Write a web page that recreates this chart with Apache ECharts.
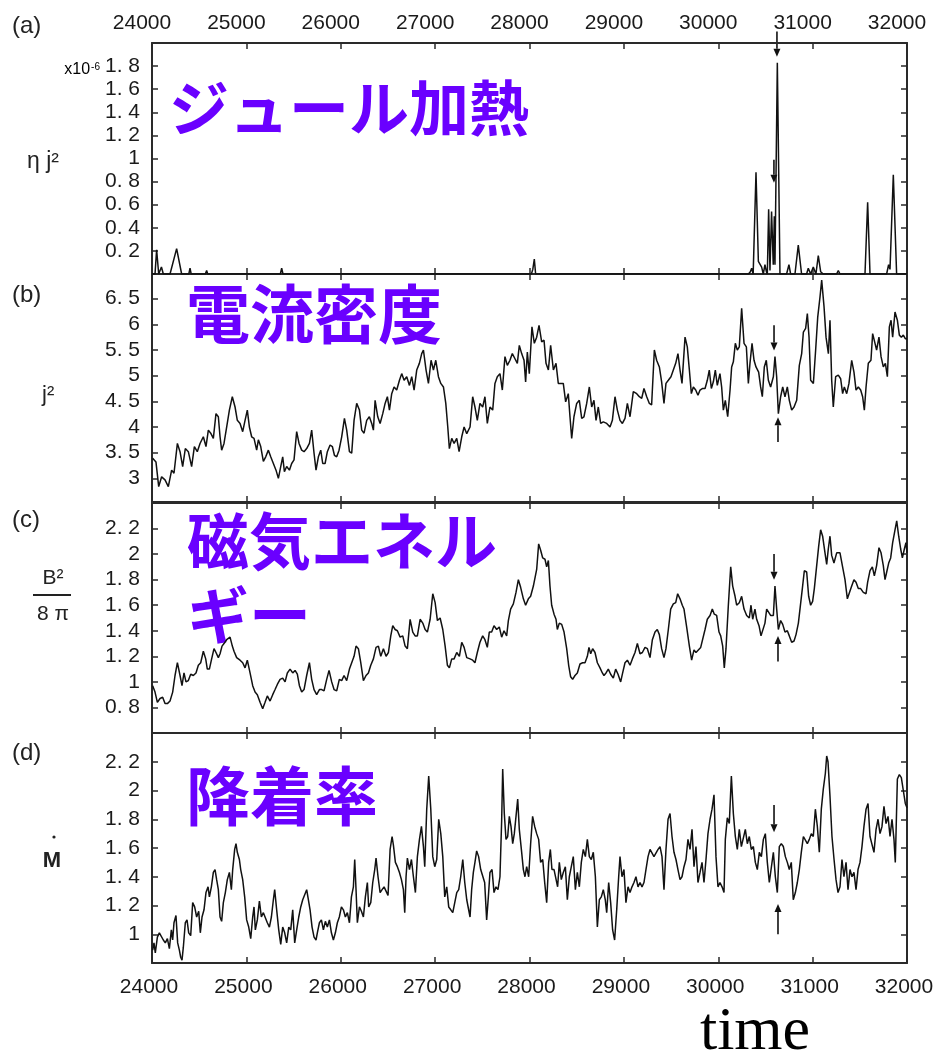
<!DOCTYPE html>
<html><head><meta charset="utf-8">
<script src="https://cdn.jsdelivr.net/npm/echarts@6/dist/echarts.min.js"></script>
<style>html,body{margin:0;padding:0;background:#fff}#c{width:938px;height:1056px}</style>
</head><body><div id="c"></div>
<script>
// ---- axis ticks ----
const xTicks = [24000,25000,26000,27000,28000,29000,30000,31000,32000];
const yTicksA = [0.2,0.4,0.6,0.8,1.0,1.2,1.4,1.6,1.8];
const yTicksB = [3,3.5,4,4.5,5,5.5,6,6.5];
const yTicksC = [0.8,1.0,1.2,1.4,1.6,1.8,2.0,2.2];
const yTicksD = [1.0,1.2,1.4,1.6,1.8,2.0,2.2];

// ---- (a) Joule heating  eta j^2  (x1e-6) ----
const timeA = [24000,24032,24049,24071,24100,24120,24140,24191,24261,24314,24390,24403,24415,24565,24579,24590,25360,25374,25388,28020,28035,28051,28065,30320,30340,30354,30370,30385,30400,30425,30442,30460,30477,30495,30510,30520,30534,30548,30565,30583,30594,30601,30626,30654,30724,30749,30767,30813,30848,30883,30936,30954,30979,31007,31035,31060,31085,31113,31254,31272,31290,31555,31583,31608,31784,31805,31820,31855,31890,32000];
const jouleA = [0,0,0.21,0,0.06,0,0,0,0.22,0,0,0.05,0,0,0.03,0,0,0.05,0,0,0.04,0.13,0,0,0.02,0.05,0,0,0.88,0.11,0.11,0.06,0,0.08,0.02,0,0.56,0.03,0.54,0.08,0.5,0.08,1.83,0,0,0.08,0,0,0.25,0,0,0.05,0,0.06,0,0.16,0.02,0,0,0.03,0,0,0.62,0,0,0.08,0.04,0.86,0,0];

// ---- (b) current density j^2 ----
const timeB = [24007,24042,24071,24102,24138,24173,24208,24233,24269,24297,24325,24353,24385,24420,24449,24480,24509,24544,24572,24597,24622,24650,24678,24703,24721,24738,24763,24791,24820,24851,24880,24904,24933,24961,24986,25010,25032,25056,25081,25109,25127,25152,25180,25205,25233,25258,25286,25314,25339,25364,25385,25403,25427,25456,25480,25505,25533,25558,25586,25611,25639,25668,25692,25717,25738,25763,25788,25809,25834,25858,25887,25911,25933,25957,25982,26010,26039,26063,26092,26116,26141,26169,26198,26222,26247,26275,26303,26328,26346,26364,26392,26417,26445,26470,26494,26516,26540,26565,26593,26622,26646,26671,26699,26728,26752,26777,26805,26833,26858,26876,26904,26929,26957,26982,27007,27035,27060,27088,27113,27134,27151,27176,27201,27229,27254,27282,27307,27335,
27370,27398,27422,27447,27475,27504,27528,27553,27581,27610,27634,27659,27687,27712,27740,27765,27793,27818,27846,27871,27892,27917,27942,27959,27977,27998,28026,28051,28076,28101,28129,28154,28175,28200,28224,28253,28281,28305,28330,28358,28383,28411,28429,28447,28471,28500,28528,28553,28577,28606,28634,28659,28683,28705,28729,28754,28782,28818,28853,28878,28906,28931,28959,28984,29012,29037,29065,29100,29136,29164,29189,29213,29242,29270,29294,29323,29347,29376,29400,29425,29446,29471,29499,29524,29549,29573,29595,29616,29648,29672,29694,29715,29736,29761,29785,29807,29831,29860,29884,29905,29927,29948,29969,29990,30018,30036,30054,30075,30100,30125,30142,30160,30181,30202,30223,30248,30273,30298,30319,30336,30358,30379,30400,30428,30449,30467,30488,30509,30531,30555,30584,30601,30619,30637,30661,30683,30707,30732,30753,30778,30803,30831,30859,30884,30902,30926,30944,30962,30979,31008,31032,31054,31078,31096,31121,31142,31167,31184,31202,31219,31244,31272,31297,31318,31336,31361,31385,31414,31438,31460,31484,31509,31530,31548,31566,31590,31618,31636,31661,31678,31703,31725,31749,31771,31792,31813,31831,31848,31873,31898,31919,31940,31961,31982,32000];
const currentB = [3.39,3.32,2.84,3.03,2.97,2.84,3.16,3.10,3.68,3.52,3.23,3.58,3.52,3.23,3.62,3.52,3.68,3.81,3.62,3.94,3.88,3.78,4.26,4.20,3.81,3.55,3.68,4.00,4.33,4.59,4.39,4.13,4.07,3.91,4.13,4.33,4.00,3.81,3.78,3.55,3.75,3.62,3.33,3.42,3.55,3.42,3.29,3.16,3.00,3.23,3.42,3.13,3.23,3.16,3.29,3.36,3.91,3.68,3.55,3.52,3.58,3.68,3.94,3.49,3.16,3.42,3.55,3.29,3.29,3.52,3.65,3.62,3.45,3.42,3.55,3.81,4.17,3.94,3.52,3.49,4.13,4.46,4.33,3.94,3.88,4.13,4.20,4.07,3.94,4.52,4.20,4.07,4.26,4.46,4.59,4.33,4.65,4.78,4.72,4.91,5.04,4.91,4.98,4.81,4.98,4.72,5.11,5.24,5.43,5.50,5.11,4.85,5.30,5.11,5.30,4.98,4.85,4.78,4.46,4.00,3.58,3.78,3.68,3.78,3.52,3.81,4.00,3.87,
4.00,4.59,4.39,4.13,4.46,4.39,4.59,4.07,4.39,4.33,4.85,4.98,5.04,4.72,5.37,5.20,5.30,5.43,5.33,5.24,5.59,5.43,5.30,4.88,5.46,5.04,5.95,5.63,5.75,5.98,5.66,5.69,5.24,5.11,5.59,5.11,5.24,4.85,4.85,4.85,4.49,4.65,4.20,3.78,4.20,4.46,4.52,4.17,4.20,4.46,4.78,4.39,4.52,4.13,4.39,4.07,4.10,4.07,4.00,4.13,4.59,4.33,4.13,4.07,4.17,4.46,4.20,4.69,4.65,4.59,4.56,4.75,4.59,4.46,4.43,5.50,5.30,5.17,4.88,4.46,4.85,4.91,4.98,5.11,5.24,5.43,5.11,4.85,5.75,5.56,5.11,4.65,4.78,4.72,4.62,4.72,4.75,4.75,4.91,5.11,4.75,4.88,5.11,4.81,5.04,4.78,4.33,4.52,4.20,4.72,5.17,5.27,5.63,5.50,5.56,6.31,5.63,5.56,4.85,5.24,5.63,5.30,5.17,5.07,4.78,4.59,5.17,5.30,4.91,4.78,4.98,5.37,4.98,4.26,4.59,4.78,4.59,4.78,4.52,4.33,4.39,4.52,5.20,5.43,5.85,5.92,6.21,5.75,4.91,4.85,5.50,6.14,6.53,6.86,6.34,5.75,5.43,6.08,4.91,4.39,4.98,5.01,4.94,4.65,4.78,4.65,4.85,5.30,5.07,4.72,4.78,4.72,4.59,4.33,4.78,5.24,5.30,5.82,5.63,5.50,5.75,5.37,5.17,5.24,4.98,5.95,6.08,5.75,6.24,6.08,5.79,5.75,5.79,5.72,5.72];

// ---- (c) magnetic energy B^2/8pi ----
const timeC = [24007,24032,24057,24085,24113,24138,24163,24191,24219,24244,24269,24297,24318,24339,24360,24385,24410,24438,24466,24491,24516,24544,24569,24586,24608,24632,24657,24678,24703,24721,24742,24763,24791,24827,24851,24869,24897,24933,24961,24986,25010,25039,25067,25092,25116,25145,25173,25198,25222,25251,25279,25304,25328,25357,25385,25410,25434,25463,25491,25516,25540,25562,25586,25611,25639,25668,25692,25717,25745,25774,25798,25823,25851,25876,25904,25929,25957,25985,26010,26035,26063,26092,26116,26141,26162,26187,26212,26240,26268,26293,26318,26346,26374,26399,26424,26452,26480,26505,26530,26551,26576,26600,26629,26657,26682,26706,26735,26763,26788,26812,26841,26869,26894,26918,26947,26975,27000,27024,27053,27081,27106,27130,27151,27176,27201,27229,27257,27282,27307,27335,
27370,27398,27422,27447,27475,27504,27528,27553,27574,27599,27624,27652,27680,27705,27730,27758,27776,27800,27829,27857,27882,27906,27935,27959,27988,28012,28041,28058,28076,28097,28118,28140,28164,28182,28200,28217,28235,28260,28281,28295,28316,28341,28366,28394,28415,28436,28457,28482,28507,28535,28563,28588,28613,28630,28648,28669,28694,28719,28747,28772,28789,28811,28835,28860,28888,28913,28938,28966,28987,29012,29037,29065,29090,29118,29143,29171,29196,29224,29249,29277,29302,29330,29354,29376,29400,29425,29446,29471,29496,29524,29549,29570,29595,29619,29637,29665,29694,29718,29743,29764,29789,29814,29835,29860,29884,29913,29937,29958,29983,30008,30026,30047,30064,30082,30107,30132,30153,30178,30195,30223,30248,30273,30301,30329,30347,30365,30389,30407,30432,30453,30471,30495,30513,30534,30555,30584,30601,30619,30637,30661,30683,30707,30732,30753,30778,30803,30824,30849,30866,30891,30912,30937,30958,30979,31000,31018,31043,31064,31085,31106,31131,31149,31166,31184,31202,31226,31255,31290,31315,31343,31368,31389,31414,31438,31460,31484,31509,31537,31566,31583,31608,31633,31654,31678,31703,31725,31749,31767,31785,31806,31827,31848,31873,31891,31912,31933,31951,31972,31989,32000];
const magneticC = [0.97,0.92,0.84,0.87,0.88,0.83,0.83,0.85,0.92,1.05,1.15,1.05,0.97,1.07,1.00,1.01,1.06,1.05,1.07,1.13,1.15,1.24,1.18,1.10,1.10,1.18,1.26,1.23,1.19,1.22,1.28,1.30,1.33,1.35,1.28,1.24,1.19,1.17,1.15,1.11,1.17,1.07,0.97,0.92,0.90,0.84,0.79,0.84,0.89,0.85,0.90,0.94,0.98,1.02,1.03,1.00,1.07,1.10,1.07,1.09,1.06,0.97,0.92,0.94,1.05,1.15,1.02,0.94,0.90,0.94,0.94,0.93,1.02,1.09,1.00,0.94,0.93,1.02,1.01,1.05,1.01,1.10,1.15,1.20,1.28,1.26,1.15,1.01,1.05,1.07,1.13,1.18,1.27,1.28,1.20,1.26,1.20,1.23,1.36,1.44,1.41,1.40,1.35,1.36,1.28,1.26,1.49,1.39,1.36,1.36,1.49,1.46,1.41,1.39,1.49,1.69,1.62,1.48,1.50,1.41,1.28,1.13,1.11,1.18,1.18,1.23,1.20,1.31,1.27,1.19,
1.18,1.17,1.15,1.23,1.31,1.36,1.33,1.27,1.39,1.39,1.44,1.41,1.43,1.35,1.40,1.36,1.48,1.57,1.61,1.70,1.80,1.74,1.65,1.60,1.65,1.67,1.75,1.74,1.88,2.08,2.03,1.97,1.96,1.90,1.95,1.75,1.60,1.53,1.49,1.41,1.46,1.45,1.39,1.26,1.13,1.04,1.02,1.05,1.07,1.14,1.15,1.15,1.20,1.27,1.22,1.26,1.23,1.15,1.11,1.07,1.05,1.07,1.10,1.06,1.03,1.10,1.06,1.00,1.07,1.15,1.17,1.13,1.18,1.23,1.30,1.22,1.23,1.27,1.26,1.19,1.33,1.39,1.41,1.37,1.26,1.19,1.26,1.41,1.57,1.61,1.62,1.69,1.65,1.60,1.57,1.43,1.28,1.17,1.25,1.23,1.25,1.27,1.28,1.41,1.49,1.52,1.57,1.53,1.52,1.39,1.36,1.28,1.11,1.26,1.60,1.90,1.75,1.67,1.60,1.62,1.67,1.57,1.52,1.50,1.60,1.49,1.57,1.49,1.44,1.36,1.36,1.46,1.57,1.58,1.52,1.52,1.75,1.57,1.41,1.48,1.45,1.39,1.40,1.36,1.31,1.32,1.37,1.46,1.57,1.73,1.87,1.86,1.67,1.60,1.63,1.73,1.91,2.06,2.19,2.14,2.01,1.92,2.04,2.14,1.99,1.93,2.01,2.01,1.91,1.80,1.65,1.65,1.75,1.80,1.78,1.73,1.73,1.70,1.69,1.78,1.87,1.90,1.83,1.91,2.05,2.01,1.91,1.80,1.86,1.93,1.97,2.09,2.19,2.26,2.14,2.04,1.97,2.04,2.09,2.01];

// ---- (d) accretion rate Mdot ----
const timeD = [24007,24021,24035,24057,24078,24099,24120,24141,24163,24184,24205,24219,24233,24254,24272,24290,24304,24318,24332,24353,24371,24389,24410,24431,24452,24473,24495,24512,24530,24551,24572,24594,24608,24629,24650,24668,24685,24703,24721,24738,24756,24777,24798,24820,24841,24855,24876,24890,24904,24926,24940,24961,24982,25003,25025,25046,25067,25081,25095,25116,25138,25159,25180,25201,25222,25244,25265,25286,25300,25321,25343,25364,25385,25406,25427,25449,25470,25491,25512,25533,25555,25576,25597,25618,25639,25657,25675,25696,25717,25738,25752,25774,25795,25816,25837,25858,25880,25901,25922,25943,25964,25985,26007,26028,26049,26070,26092,26113,26134,26148,26162,26176,26198,26219,26240,26261,26282,26296,26318,26339,26360,26374,26395,26417,26438,26459,26480,26501,26523,26544,26558,26579,26600,26622,26643,26664,26678,26692,26706,26728,26749,26770,26791,26812,26834,26855,26876,26890,26911,26932,26954,26975,26996,27017,27038,27060,27081,27102,27123,27144,27166,27187,27208,27229,27250,27271,27293,27314,27335,
27370,27387,27405,27422,27440,27461,27483,27504,27525,27546,27564,27581,27603,27624,27645,27666,27687,27705,27716,27733,27751,27769,27786,27804,27822,27839,27857,27875,27892,27917,27935,27952,27970,27991,28012,28033,28055,28076,28097,28118,28140,28161,28182,28203,28221,28238,28260,28281,28298,28316,28337,28358,28380,28401,28422,28443,28464,28486,28507,28528,28549,28570,28592,28613,28634,28655,28676,28698,28719,28740,28761,28782,28803,28818,28839,28860,28881,28902,28924,28945,28959,28980,29001,29022,29044,29065,29086,29107,29128,29150,29171,29192,29213,29234,29256,29277,29298,29319,29340,29362,29383,29404,29425,29446,29468,29489,29510,29531,29552,29573,29595,29616,29637,29658,29679,29701,29722,29743,29764,29785,29807,29828,29849,29870,29891,29913,29934,29955,29976,29997,30018,30040,30061,30075,30096,30117,30139,30160,30181,30202,30223,30245,30266,30287,30308,30329,30350,30372,30393,30414,30435,30457,30478,30499,30520,30541,30562,30584,30605,30626,30647,30668,30690,30711,30732,30753,30774,30795,30817,30838,30859,30880,30902,30923,30944,30965,30986,31007,31029,31050,31071,31092,31113,31135,31149,31163,31184,31205,31227,31248,31269,31290,31311,31332,31354,31375,31396,31417,31438,31460,31481,31502,31523,31544,31566,31587,31608,31629,31650,31672,31693,31714,31735,31756,31778,31799,31820,31841,31862,31876,31898,31919,31940,31961,31982,32000];
const accretionD = [0.89,0.94,0.87,0.98,1.01,1.02,0.96,0.94,0.97,0.90,1.03,0.96,1.08,1.13,0.94,0.89,0.84,0.82,0.91,1.08,1.10,1.01,0.99,1.22,1.19,1.12,1.16,1.01,1.12,1.17,1.29,1.33,1.26,1.33,1.43,1.45,1.38,1.31,1.12,1.09,1.22,1.29,1.38,1.43,1.31,1.45,1.59,1.63,1.57,1.52,1.45,1.38,1.26,1.10,1.05,0.97,1.12,1.19,1.03,1.10,1.23,1.12,1.15,1.14,1.08,1.05,1.12,1.24,1.31,1.17,1.03,0.93,1.05,1.01,0.94,1.05,1.03,1.17,0.94,1.03,1.12,1.19,1.24,1.24,1.31,1.30,1.17,1.05,0.98,0.96,1.01,1.08,1.10,1.03,1.09,1.05,1.10,1.01,0.96,1.01,1.08,1.12,1.19,1.17,1.12,1.15,1.08,1.26,1.33,1.52,1.31,1.08,1.19,1.16,1.12,1.26,1.36,1.19,1.22,1.36,1.45,1.53,1.40,1.29,1.31,1.33,1.30,1.27,1.59,1.68,1.62,1.50,1.47,1.43,1.38,1.31,1.15,1.40,1.53,1.45,1.52,1.40,1.29,1.54,1.66,1.75,1.61,1.47,1.87,2.10,1.87,1.54,1.47,1.52,1.80,1.70,1.54,1.26,1.33,1.19,1.17,1.15,1.22,1.29,1.31,1.40,1.52,1.36,1.24,
1.12,1.31,1.43,1.50,1.58,1.54,1.45,1.45,1.36,1.10,1.26,1.43,1.45,1.29,1.33,1.31,1.40,1.79,2.15,1.84,1.66,1.68,1.82,1.75,1.63,1.70,1.82,1.94,1.73,1.57,1.45,1.40,1.47,1.40,1.63,1.82,1.75,1.70,1.66,1.50,1.52,1.36,1.22,1.50,1.59,1.45,1.45,1.45,1.33,1.50,1.38,1.43,1.47,1.24,1.40,1.47,1.54,1.31,1.43,1.33,1.50,1.59,1.54,1.66,1.54,1.52,1.57,1.40,1.05,1.24,1.26,1.31,1.24,1.15,1.36,1.22,1.03,0.96,1.17,1.40,1.54,1.40,1.45,1.22,1.33,1.29,1.33,1.36,1.40,1.33,1.36,1.33,1.36,1.45,1.54,1.59,1.59,1.54,1.54,1.59,1.61,1.54,1.31,1.59,1.80,1.84,1.68,1.57,1.52,1.45,1.38,1.40,1.47,1.52,1.66,1.59,1.73,1.47,1.61,1.36,1.43,1.50,1.36,1.52,1.70,1.80,1.87,1.97,1.54,1.33,1.36,1.33,1.29,1.66,1.81,1.77,2.10,1.84,1.68,1.59,1.73,1.61,1.61,1.73,1.63,1.68,1.59,1.61,1.50,1.45,1.57,1.54,1.66,1.70,1.50,1.36,1.36,1.57,1.40,1.29,1.61,1.63,1.61,1.54,1.50,1.45,1.50,1.24,1.29,1.36,1.45,1.57,1.68,1.68,1.63,1.66,1.70,1.68,1.87,1.75,1.57,1.87,2.01,2.12,2.24,2.20,1.96,1.68,1.52,1.38,1.29,1.33,1.52,1.40,1.50,1.31,1.45,1.40,1.43,1.31,1.45,1.50,1.61,1.75,1.87,1.91,1.68,1.68,1.57,1.73,1.80,1.70,1.75,1.89,1.77,1.82,1.68,1.80,1.66,1.50,2.08,2.11,2.09,2.00,1.91,1.88];

// ---- arrow annotations: [time, from value, to value] ----
const arrowsA = [[30622, 2.10, 1.88], [30590, 0.99, 0.79]];
const arrowsB = [[30591, 5.98, 5.49], [30633, 3.71, 4.19]];
const arrowsC = [[30591, 2.00, 1.80], [30633, 1.16, 1.36]];
const arrowsD = [[30591, 1.90, 1.71], [30633, 1.00, 1.21]];

// ---- texts ----
const panelTitles = ['ジュール加熱', '電流密度', '磁気エネル\nギー', '降着率'];
const panelLetters = ['(a)', '(b)', '(c)', '(d)'];
const xAxisName = 'time';

const zip = (t, v) => t.map((x, i) => [x, v[i]]);
const frame = '#2a2a2a';
const labelFont = 'Liberation Sans';

const grids = [
  {left: 152, width: 755, top: 43, height: 231},
  {left: 152, width: 755, top: 274, height: 228},
  {left: 152, width: 755, top: 503, height: 230},
  {left: 152, width: 755, top: 733, height: 230}
];
const yRanges = [[0, 2.0], [2.54, 6.98], [0.6, 2.4], [0.8, 2.4]];
const yTicks = [yTicksA, yTicksB, yTicksC, yTicksD];

function xAx(i, pos, showLabel) {
  return {
    type: 'value', gridIndex: i, position: pos, min: 24000, max: 32000, interval: 1000,
    axisLine: {show: true, onZero: false, lineStyle: {color: frame, width: 2}},
    axisTick: {show: true, inside: true, length: 6, lineStyle: {color: frame, width: 1.5}},
    axisLabel: {show: showLabel, fontSize: 21, fontFamily: labelFont, color: '#1a1a1a',
      margin: pos === 'top' ? 9 : 14,
      padding: pos === 'top' ? [0, 20, 0, 0] : [0, 6, 0, 0],
      formatter: v => String(v)},
    splitLine: {show: false}
  };
}
function fmtY(v) {
  const s = String(Math.round(v * 10) / 10);
  return s.replace('.', '. ');
}
function yAx(i, pos, showLabel) {
  return {
    type: 'value', gridIndex: i, position: pos, min: yRanges[i][0], max: yRanges[i][1],
    axisLine: {show: true, onZero: false, lineStyle: {color: frame, width: 2}},
    axisTick: {show: true, inside: true, length: 6, customValues: yTicks[i], lineStyle: {color: frame, width: 1.5}},
    axisLabel: {show: showLabel, customValues: yTicks[i], fontSize: 21, fontFamily: labelFont, color: '#1a1a1a', margin: 12, formatter: fmtY},
    splitLine: {show: false}
  };
}

const xAxes = [], yAxes = [];
for (let i = 0; i < 4; i++) {
  xAxes.push(xAx(i, 'bottom', i === 3));
  xAxes.push(xAx(i, 'top', i === 0));
  yAxes.push(yAx(i, 'left', true));
  yAxes.push(yAx(i, 'right', false));
}

const seriesData = [zip(timeA, jouleA), zip(timeB, currentB), zip(timeC, magneticC), zip(timeD, accretionD)];
const series = seriesData.map((d, i) => ({
  type: 'line', xAxisIndex: 2 * i, yAxisIndex: 2 * i, data: d, showSymbol: false,
  lineStyle: {color: '#111', width: 1.5}, animation: false, silent: true
}));

const purple = '#6a00ff';
const graphics = [];
const letterY = [26, 295, 520, 753];
panelLetters.forEach((t, i) => graphics.push({type: 'text', x: 12, y: letterY[i],
  style: {text: t, font: '24px "Liberation Sans"', fill: '#222', verticalAlign: 'middle'}}));

// titles
const tf = s => 'bold ' + s + 'px "Noto Sans CJK JP"';
graphics.push({type: 'text', x: 169, y: 108, style: {text: panelTitles[0], font: tf(60), fill: purple, verticalAlign: 'middle'}});
graphics.push({type: 'text', x: 186, y: 314, style: {text: panelTitles[1], font: tf(64), fill: purple, verticalAlign: 'middle'}});
const cLines = panelTitles[2].split('\n');
graphics.push({type: 'text', x: 187, y: 541, style: {text: cLines[0], font: tf(62), fill: purple, verticalAlign: 'middle'}});
graphics.push({type: 'text', x: 187, y: 615, style: {text: cLines[1], font: tf(62), fill: purple, verticalAlign: 'middle'}});
graphics.push({type: 'text', x: 186, y: 796, style: {text: panelTitles[3], font: tf(64), fill: purple, verticalAlign: 'middle'}});

// y names
graphics.push({type: 'text', x: 27, y: 162, style: {text: 'η j²', font: '23px "Liberation Sans"', fill: '#222', verticalAlign: 'middle'}});
graphics.push({type: 'text', x: 100, y: 70, style: {text: '{a|x10}{b|-6}', align: 'right', verticalAlign: 'middle',
  rich: {a: {fontSize: 16, fontFamily: 'Liberation Sans', color: '#222'}, b: {fontSize: 10, fontFamily: 'Liberation Sans', color: '#222', verticalAlign: 'top', padding: [0, 0, 6, 1]}}}});
graphics.push({type: 'text', x: 42, y: 395, style: {text: 'j²', font: '22px "Liberation Sans"', fill: '#222', verticalAlign: 'middle'}});
graphics.push({type: 'text', x: 53, y: 578, style: {text: 'B²', font: '21px "Liberation Sans"', fill: '#222', align: 'center', verticalAlign: 'middle'}});
graphics.push({type: 'line', shape: {x1: 33, y1: 595, x2: 71, y2: 595}, style: {stroke: '#222', lineWidth: 2}});
graphics.push({type: 'text', x: 53, y: 614, style: {text: '8 π', font: '21px "Liberation Sans"', fill: '#222', align: 'center', verticalAlign: 'middle'}});
graphics.push({type: 'text', x: 52, y: 861, style: {text: 'M', font: 'bold 22px "Liberation Sans"', fill: '#222', align: 'center', verticalAlign: 'middle'}});
graphics.push({type: 'circle', shape: {cx: 54, cy: 837, r: 1.6}, style: {fill: '#222'}});
graphics.push({type: 'text', x: 755, y: 1033, style: {text: xAxisName, font: '62px "Liberation Serif"', fill: '#000', align: 'center', verticalAlign: 'middle'}});

const chart = echarts.init(document.getElementById('c'));
chart.setOption({
  animation: false,
  backgroundColor: '#fff',
  grid: grids,
  xAxis: xAxes,
  yAxis: yAxes,
  series: series,
  graphic: graphics
});

// arrows through the axes' scales
const arrowSets = [arrowsA, arrowsB, arrowsC, arrowsD];
const arrowGraphics = [];
arrowSets.forEach((set, i) => {
  set.forEach(([t, v0, v1]) => {
    const p0 = chart.convertToPixel({xAxisIndex: 2 * i, yAxisIndex: 2 * i}, [t, v0]);
    const p1 = chart.convertToPixel({xAxisIndex: 2 * i, yAxisIndex: 2 * i}, [t, v1]);
    const dir = p1[1] > p0[1] ? 1 : -1;
    const hl = 8, hw = 3.5;
    arrowGraphics.push({type: 'line', shape: {x1: p0[0], y1: p0[1], x2: p1[0], y2: p1[1] - dir * hl}, style: {stroke: '#111', lineWidth: 1.6}});
    arrowGraphics.push({type: 'polygon', shape: {points: [[p1[0] - hw, p1[1] - dir * hl], [p1[0] + hw, p1[1] - dir * hl], [p1[0], p1[1]]]}, style: {fill: '#111'}});
  });
});
chart.setOption({graphic: graphics.concat(arrowGraphics)});
</script>
</body></html>
